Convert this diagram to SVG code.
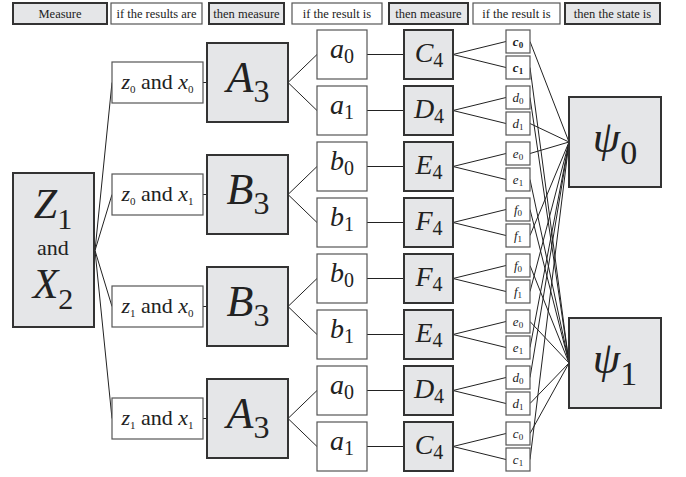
<svg xmlns="http://www.w3.org/2000/svg" width="686" height="477" viewBox="0 0 686 477" font-family="'Liberation Serif', 'Times New Roman', 'DejaVu Serif', serif">
<style>
.g{fill:#e5e6e8;stroke:#333;stroke-width:2}
.w{fill:#fff;stroke:#555;stroke-width:1.2}
.ln{fill:none;stroke:#222;stroke-width:1}
text{font-family:'Liberation Serif','Times New Roman','DejaVu Serif',serif;fill:#222;text-anchor:middle}
.h{font-size:12.5px}
.i{font-style:italic}
</style>
<rect width="686" height="477" fill="#fff"/>
<g id="header">
<g id="h1"><rect class="g" x="13" y="3" width="94" height="21"/><text class="h" x="60" y="18">Measure</text></g>
<g id="h2"><rect class="w" x="111" y="3" width="91" height="21"/><text class="h" x="156.5" y="18">if the results are</text></g>
<g id="h3"><rect class="g" x="209" y="3" width="75" height="21"/><text class="h" x="246.5" y="18">then measure</text></g>
<g id="h4"><rect class="w" x="292" y="3" width="90" height="21"/><text class="h" x="337" y="18">if the result is</text></g>
<g id="h5"><rect class="g" x="389" y="3" width="79" height="21"/><text class="h" x="428.5" y="18">then measure</text></g>
<g id="h6"><rect class="w" x="473" y="3" width="87" height="21"/><text class="h" x="516.5" y="18">if the result is</text></g>
<g id="h7"><rect class="g" x="565" y="3" width="95" height="21"/><text class="h" x="612.5" y="18">then the state is</text></g>
</g>
<g id="connectors" class="ln">
<path d="M95,250.5L112,82.5M95,250.5L112,194.5M95,250.5L112,306.5M95,250.5L112,418.5"/>
<path d="M203,82.5H207M203,194.5H207M203,306.5H207M203,418.5H207"/>
<path d="M288,82.5L317,54.5M288,82.5L317,110.5M288,194.5L317,166.5M288,194.5L317,222.5M288,306.5L317,278.5M288,306.5L317,334.5M288,418.5L317,390.5M288,418.5L317,446.5"/>
<path d="M367,54.5H404M367,110.5H404M367,166.5H404M367,222.5H404M367,278.5H404M367,334.5H404M367,390.5H404M367,446.5H404"/>
<path d="M453,54.5L506,41.5M453,54.5L506,67.5M453,110.5L506,97.5M453,110.5L506,123.5M453,166.5L506,153.5M453,166.5L506,179.5M453,222.5L506,209.5M453,222.5L506,235.5M453,278.5L506,265.5M453,278.5L506,291.5M453,334.5L506,321.5M453,334.5L506,347.5M453,390.5L506,377.5M453,390.5L506,403.5M453,446.5L506,433.5M453,446.5L506,459.5"/>
<path d="M530,41.5L569,142M530,67.5L569,363M530,97.5L569,363M530,123.5L569,142M530,153.5L569,142M530,179.5L569,363M530,209.5L569,363M530,235.5L569,142M530,265.5L569,363M530,291.5L569,142M530,321.5L569,363M530,347.5L569,142M530,377.5L569,142M530,403.5L569,363M530,433.5L569,363M530,459.5L569,142"/>
</g>
<g id="Z1X2"><rect class="g" x="13" y="173" width="81" height="154"/>
<text x="53" y="218" font-size="42"><tspan class="i">Z</tspan><tspan font-size="30" dy="11">1</tspan></text>
<text x="53" y="255" font-size="22">and</text>
<text x="53" y="298" font-size="42"><tspan class="i">X</tspan><tspan font-size="30" dy="11">2</tspan></text>
</g>
<g id="zx00"><rect class="w" x="112" y="62" width="91" height="41"/><text x="157.5" y="89" font-size="22"><tspan class="i">z</tspan><tspan font-size="11" dy="4">0</tspan><tspan dy="-4"> and </tspan><tspan class="i">x</tspan><tspan font-size="11" dy="4">0</tspan></text></g>
<g id="zx01"><rect class="w" x="112" y="174" width="91" height="41"/><text x="157.5" y="201" font-size="22"><tspan class="i">z</tspan><tspan font-size="11" dy="4">0</tspan><tspan dy="-4"> and </tspan><tspan class="i">x</tspan><tspan font-size="11" dy="4">1</tspan></text></g>
<g id="zx10"><rect class="w" x="112" y="286" width="91" height="41"/><text x="157.5" y="313" font-size="22"><tspan class="i">z</tspan><tspan font-size="11" dy="4">1</tspan><tspan dy="-4"> and </tspan><tspan class="i">x</tspan><tspan font-size="11" dy="4">0</tspan></text></g>
<g id="zx11"><rect class="w" x="112" y="398" width="91" height="41"/><text x="157.5" y="425" font-size="22"><tspan class="i">z</tspan><tspan font-size="11" dy="4">1</tspan><tspan dy="-4"> and </tspan><tspan class="i">x</tspan><tspan font-size="11" dy="4">1</tspan></text></g>
<g id="A3a"><rect class="g" x="207" y="43" width="81" height="79"/><text x="248" y="92" font-size="44"><tspan class="i">A</tspan><tspan font-size="32" dy="10">3</tspan></text></g>
<g id="B3a"><rect class="g" x="207" y="155" width="81" height="79"/><text x="248" y="204" font-size="44"><tspan class="i">B</tspan><tspan font-size="32" dy="10">3</tspan></text></g>
<g id="B3b"><rect class="g" x="207" y="267" width="81" height="79"/><text x="248" y="316" font-size="44"><tspan class="i">B</tspan><tspan font-size="32" dy="10">3</tspan></text></g>
<g id="A3b"><rect class="g" x="207" y="379" width="81" height="79"/><text x="248" y="428" font-size="44"><tspan class="i">A</tspan><tspan font-size="32" dy="10">3</tspan></text></g>
<g id="a0a"><rect class="w" x="317" y="30" width="50" height="49"/><text x="342" y="58" font-size="28"><tspan class="i">a</tspan><tspan font-size="20" dy="5">0</tspan></text></g>
<g id="a1a"><rect class="w" x="317" y="86" width="50" height="49"/><text x="342" y="114" font-size="28"><tspan class="i">a</tspan><tspan font-size="20" dy="5">1</tspan></text></g>
<g id="b0a"><rect class="w" x="317" y="142" width="50" height="49"/><text x="342" y="170" font-size="28"><tspan class="i">b</tspan><tspan font-size="20" dy="5">0</tspan></text></g>
<g id="b1a"><rect class="w" x="317" y="198" width="50" height="49"/><text x="342" y="226" font-size="28"><tspan class="i">b</tspan><tspan font-size="20" dy="5">1</tspan></text></g>
<g id="b0b"><rect class="w" x="317" y="254" width="50" height="49"/><text x="342" y="282" font-size="28"><tspan class="i">b</tspan><tspan font-size="20" dy="5">0</tspan></text></g>
<g id="b1b"><rect class="w" x="317" y="310" width="50" height="49"/><text x="342" y="338" font-size="28"><tspan class="i">b</tspan><tspan font-size="20" dy="5">1</tspan></text></g>
<g id="a0b"><rect class="w" x="317" y="366" width="50" height="49"/><text x="342" y="394" font-size="28"><tspan class="i">a</tspan><tspan font-size="20" dy="5">0</tspan></text></g>
<g id="a1b"><rect class="w" x="317" y="422" width="50" height="49"/><text x="342" y="450" font-size="28"><tspan class="i">a</tspan><tspan font-size="20" dy="5">1</tspan></text></g>
<g id="C4a"><rect class="g" x="404" y="30" width="49" height="49"/><text x="429" y="62" font-size="28"><tspan class="i">C</tspan><tspan font-size="20" dy="5">4</tspan></text></g>
<g id="D4a"><rect class="g" x="404" y="86" width="49" height="49"/><text x="429" y="118" font-size="28"><tspan class="i">D</tspan><tspan font-size="20" dy="5">4</tspan></text></g>
<g id="E4a"><rect class="g" x="404" y="142" width="49" height="49"/><text x="429" y="174" font-size="28"><tspan class="i">E</tspan><tspan font-size="20" dy="5">4</tspan></text></g>
<g id="F4a"><rect class="g" x="404" y="198" width="49" height="49"/><text x="429" y="230" font-size="28"><tspan class="i">F</tspan><tspan font-size="20" dy="5">4</tspan></text></g>
<g id="F4b"><rect class="g" x="404" y="254" width="49" height="49"/><text x="429" y="286" font-size="28"><tspan class="i">F</tspan><tspan font-size="20" dy="5">4</tspan></text></g>
<g id="E4b"><rect class="g" x="404" y="310" width="49" height="49"/><text x="429" y="342" font-size="28"><tspan class="i">E</tspan><tspan font-size="20" dy="5">4</tspan></text></g>
<g id="D4b"><rect class="g" x="404" y="366" width="49" height="49"/><text x="429" y="398" font-size="28"><tspan class="i">D</tspan><tspan font-size="20" dy="5">4</tspan></text></g>
<g id="C4b"><rect class="g" x="404" y="422" width="49" height="49"/><text x="429" y="454" font-size="28"><tspan class="i">C</tspan><tspan font-size="20" dy="5">4</tspan></text></g>
<g id="c0a"><rect class="w" x="506" y="30" width="24" height="23"/><text x="518" y="46" font-size="13" font-weight="bold"><tspan class="i">c</tspan><tspan font-size="9" dy="2">0</tspan></text></g>
<g id="c1a"><rect class="w" x="506" y="56" width="24" height="23"/><text x="518" y="72" font-size="13" font-weight="bold"><tspan class="i">c</tspan><tspan font-size="9" dy="2">1</tspan></text></g>
<g id="d0a"><rect class="w" x="506" y="86" width="24" height="23"/><text x="518" y="102" font-size="13"><tspan class="i">d</tspan><tspan font-size="9" dy="2">0</tspan></text></g>
<g id="d1a"><rect class="w" x="506" y="112" width="24" height="23"/><text x="518" y="128" font-size="13"><tspan class="i">d</tspan><tspan font-size="9" dy="2">1</tspan></text></g>
<g id="e0a"><rect class="w" x="506" y="142" width="24" height="23"/><text x="518" y="158" font-size="13"><tspan class="i">e</tspan><tspan font-size="9" dy="2">0</tspan></text></g>
<g id="e1a"><rect class="w" x="506" y="168" width="24" height="23"/><text x="518" y="184" font-size="13"><tspan class="i">e</tspan><tspan font-size="9" dy="2">1</tspan></text></g>
<g id="f0a"><rect class="w" x="506" y="198" width="24" height="23"/><text x="518" y="214" font-size="13"><tspan class="i">f</tspan><tspan font-size="9" dy="2">0</tspan></text></g>
<g id="f1a"><rect class="w" x="506" y="224" width="24" height="23"/><text x="518" y="240" font-size="13"><tspan class="i">f</tspan><tspan font-size="9" dy="2">1</tspan></text></g>
<g id="f0b"><rect class="w" x="506" y="254" width="24" height="23"/><text x="518" y="270" font-size="13"><tspan class="i">f</tspan><tspan font-size="9" dy="2">0</tspan></text></g>
<g id="f1b"><rect class="w" x="506" y="280" width="24" height="23"/><text x="518" y="296" font-size="13"><tspan class="i">f</tspan><tspan font-size="9" dy="2">1</tspan></text></g>
<g id="e0b"><rect class="w" x="506" y="310" width="24" height="23"/><text x="518" y="326" font-size="13"><tspan class="i">e</tspan><tspan font-size="9" dy="2">0</tspan></text></g>
<g id="e1b"><rect class="w" x="506" y="336" width="24" height="23"/><text x="518" y="352" font-size="13"><tspan class="i">e</tspan><tspan font-size="9" dy="2">1</tspan></text></g>
<g id="d0b"><rect class="w" x="506" y="366" width="24" height="23"/><text x="518" y="382" font-size="13"><tspan class="i">d</tspan><tspan font-size="9" dy="2">0</tspan></text></g>
<g id="d1b"><rect class="w" x="506" y="392" width="24" height="23"/><text x="518" y="408" font-size="13"><tspan class="i">d</tspan><tspan font-size="9" dy="2">1</tspan></text></g>
<g id="c0b"><rect class="w" x="506" y="422" width="24" height="23"/><text x="518" y="438" font-size="13"><tspan class="i">c</tspan><tspan font-size="9" dy="2">0</tspan></text></g>
<g id="c1b"><rect class="w" x="506" y="448" width="24" height="23"/><text x="518" y="464" font-size="13"><tspan class="i">c</tspan><tspan font-size="9" dy="2">1</tspan></text></g>
<g id="psi0"><rect class="g" x="569" y="97" width="92" height="90"/><text x="615" y="152" font-size="44"><tspan class="i">ψ</tspan><tspan font-size="34" dy="12">0</tspan></text></g>
<g id="psi1"><rect class="g" x="569" y="318" width="92" height="90"/><text x="615" y="373" font-size="44"><tspan class="i">ψ</tspan><tspan font-size="34" dy="12">1</tspan></text></g>
</svg>
